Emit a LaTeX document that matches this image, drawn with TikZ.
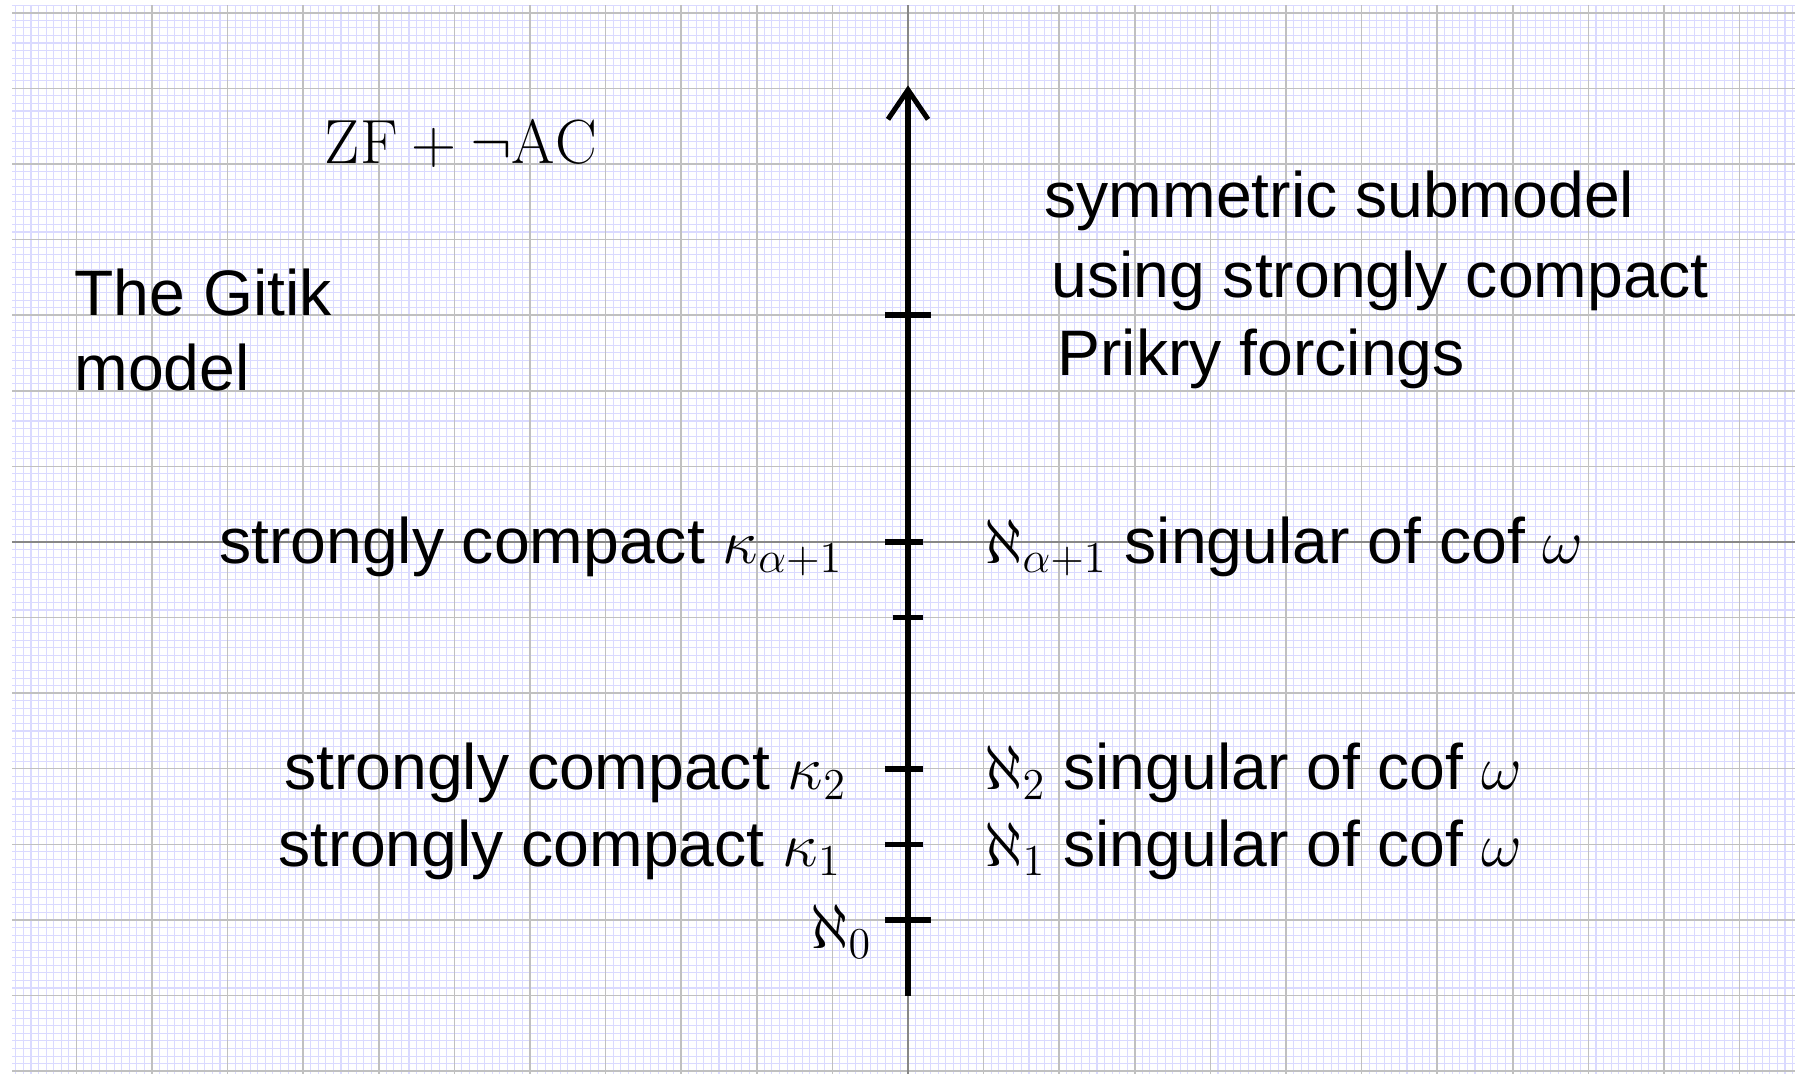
\RequirePackage{fix-cm}
\documentclass[tikz,border=0pt]{standalone}
\usepackage{fontspec}
\newfontfamily\gsans{Liberation Sans}
\definecolor{minorgrid}{RGB}{218,218,255}
\definecolor{majorgrid}{RGB}{192,192,192}
\definecolor{axisgrey}{RGB}{135,135,135}
\newcommand{\mth}[1]{{\fontsize{23.7}{28}\selectfont$#1$}}
\begin{document}
\begin{tikzpicture}[
  lab/.style={inner sep=0pt, anchor=base west, font=\gsans\fontsize{24.2}{28}\selectfont},
  mlab/.style={inner sep=0pt, anchor=base west, font=\fontsize{23.7}{28}\selectfont},
  axisline/.style={line width=1.9pt, black},
  tickline/.style={line width=2.1pt, black},
]
\useasboundingbox (-12.011,-7.050) rectangle (11.733,7.169);
\fill[white] (-12.011,-7.050) rectangle (11.733,7.169);
\begin{scope}
  \clip (-11.85,-7.03) rectangle (11.733,7.10);
  \draw[minorgrid, line width=0.4pt, step=0.1] (-12,-7.1) grid (11.8,7.2);
  \draw[majorgrid, line width=0.55pt, step=1] (-12,-7.1) grid (11.8,7.2);
  \draw[axisgrey, line width=0.45pt] (-12,0) -- (11.8,0);
  \draw[axisgrey, line width=0.45pt] (0,-7.1) -- (0,7.2);
\end{scope}
% vertical arrow
\coordinate (bot) at (0,-6);
\coordinate (tip) at (0,5.98);
\draw[axisline] (bot) -- (tip);
\draw[axisline, line join=miter] (-0.265,5.59) -- (tip) -- (0.265,5.59);
% ticks
\draw[tickline] (-0.3,3) -- (0.3,3);
\draw[tickline] (-0.3,0) -- (0.2,0);
\draw[tickline] (-0.2,-1) -- (0.2,-1);
\draw[tickline] (-0.3,-3) -- (0.2,-3);
\draw[tickline] (-0.3,-4) -- (0.2,-4);
\draw[tickline] (-0.3,-5) -- (0.3,-5);
% labels
\node[mlab] (zf) at (-7.72,5) {\fontsize{23.5}{28}\selectfont$\mathrm{ZF}+\neg\mathrm{AC}$};
\node[lab] (gitikA) at (-11.03,3) {The Gitik};
\node[lab] (gitikB) at (-11.03,2) {model};
\node[lab] (symA) at (1.80,4.29) {symmetric submodel};
\node[lab] (symB) at (1.89,3.23) {using strongly compact};
\node[lab] (symC) at (1.97,2.20) {Prikry forcings};
\node[lab] (scA) at (-9.12,-0.28) {strongly compact \mth{\kappa_{\alpha+1}}};
\node[lab] (scB) at (-8.26,-3.28) {strongly compact \mth{\kappa_2}};
\node[lab] (scC) at (-8.33,-4.29) {strongly compact \mth{\kappa_1}};
\node[lab] (alA) at (1.0,-0.28) {\mth{\aleph_{\alpha+1}} singular of cof \mth{\omega}};
\node[lab] (alB) at (1.0,-3.28) {\mth{\aleph_2} singular of cof \mth{\omega}};
\node[lab] (alC) at (1.0,-4.29) {\mth{\aleph_1} singular of cof \mth{\omega}};
\node[mlab] (al0) at (-1.30,-5.38) {$\aleph_0$};
\end{tikzpicture}
\end{document}
